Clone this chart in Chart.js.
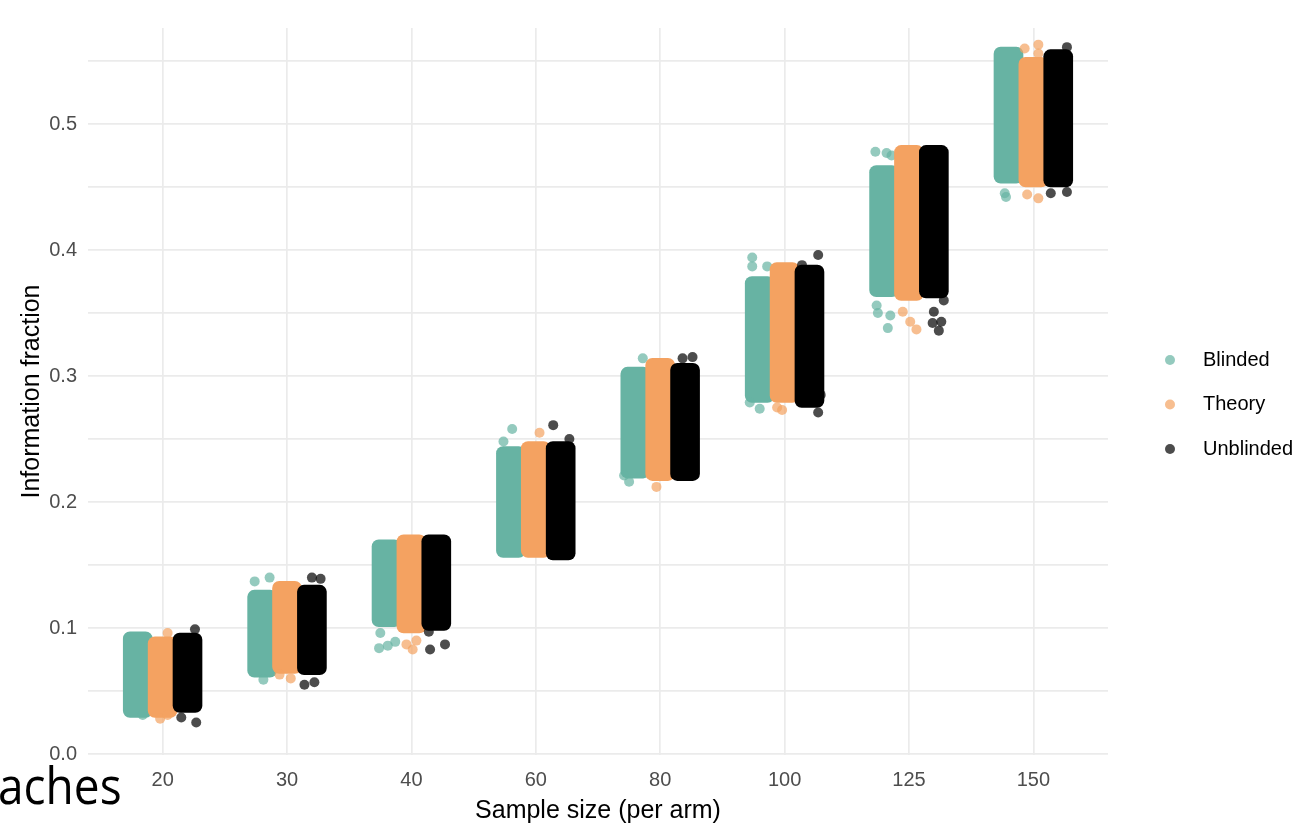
<!DOCTYPE html>
<html>
<head>
<meta charset="utf-8">
<script src="https://cdn.jsdelivr.net/npm/chart.js@4.4.1/dist/chart.umd.min.js"></script>
<style>
  html, body { margin: 0; padding: 0; background: #ffffff; }
  #wrap { position: relative; width: 1311px; height: 826px; overflow: hidden; }
  #c { position: absolute; left: 0; top: 0; }
  #caption {
    position: absolute; left: -2px; top: 763px;
    font-family: "Open Sans", sans-serif; font-size: 46px; line-height: 1;
    color: #000000; white-space: nowrap;
    transform: scale(1.0, 1.12); transform-origin: 0 41px;
  }
</style>
</head>
<body>
<div id="wrap">
  <canvas id="c" width="1311" height="826"></canvas>
  <div id="caption">aches</div>
</div>
<script>
// Sample sizes per arm (x categories)
const sampleSizes = ['20', '30', '40', '60', '80', '100', '125', '150'];
const seriesNames = ['Blinded', 'Theory', 'Unblinded'];
const yTickLabels = ['0.0', '0.1', '0.2', '0.3', '0.4', '0.5'];

// Dense body of each simulated cloud: [low, high] information fraction
const blindedRange = [
  [0.029, 0.097], [0.061, 0.130], [0.101, 0.170], [0.156, 0.244],
  [0.219, 0.307], [0.279, 0.379], [0.363, 0.467], [0.453, 0.561]
];
const theoryRange = [
  [0.029, 0.093], [0.064, 0.137], [0.096, 0.174], [0.156, 0.248],
  [0.217, 0.314], [0.279, 0.390], [0.360, 0.483], [0.450, 0.553]
];
const unblindedRange = [
  [0.033, 0.096], [0.063, 0.134], [0.098, 0.174], [0.154, 0.248],
  [0.217, 0.310], [0.275, 0.388], [0.362, 0.483], [0.450, 0.559]
];

// Stray simulations outside the dense body: [category index, value, jitter]
const blindedStray = [
  [0, 0.031, 0.04],
  [1, 0.137, -0.06], [1, 0.140, 0.06], [1, 0.059, 0.01],
  [2, 0.084, -0.06], [2, 0.086, 0.01], [2, 0.089, 0.07], [2, 0.096, -0.05],
  [3, 0.258, 0.01], [3, 0.248, -0.06],
  [4, 0.314, 0.06], [4, 0.221, -0.09], [4, 0.216, -0.05],
  [5, 0.394, -0.06], [5, 0.387, -0.06], [5, 0.387, 0.06], [5, 0.279, -0.08], [5, 0.274, 0.00],
  [6, 0.478, -0.07], [6, 0.477, 0.02], [6, 0.475, 0.06], [6, 0.356, -0.06],
  [6, 0.350, -0.05], [6, 0.348, 0.05], [6, 0.338, 0.03],
  [7, 0.445, -0.03], [7, 0.442, -0.02]
];
const theoryStray = [
  [0, 0.096, 0.04], [0, 0.028, -0.02], [0, 0.031, 0.04],
  [1, 0.063, -0.06], [1, 0.060, 0.03],
  [2, 0.087, -0.04], [2, 0.083, 0.01], [2, 0.090, 0.04],
  [3, 0.255, 0.03],
  [4, 0.212, -0.03],
  [5, 0.275, -0.06], [5, 0.273, -0.02],
  [6, 0.351, -0.05], [6, 0.343, 0.01], [6, 0.337, 0.06],
  [7, 0.563, 0.04], [7, 0.556, 0.04], [7, 0.560, -0.07], [7, 0.444, -0.05], [7, 0.441, 0.04]
];
const unblindedStray = [
  [0, 0.099, 0.06], [0, 0.029, -0.05], [0, 0.025, 0.07],
  [1, 0.140, 0.00], [1, 0.139, 0.07], [1, 0.055, -0.06], [1, 0.057, 0.02],
  [2, 0.097, -0.06], [2, 0.087, 0.07], [2, 0.083, -0.05],
  [3, 0.261, -0.06], [3, 0.250, 0.07],
  [4, 0.314, -0.02], [4, 0.315, 0.06],
  [5, 0.396, 0.07], [5, 0.388, -0.06], [5, 0.285, 0.09], [5, 0.271, 0.07],
  [6, 0.360, 0.08], [6, 0.351, 0.00], [6, 0.343, 0.06], [6, 0.342, -0.01], [6, 0.336, 0.04],
  [7, 0.561, 0.07], [7, 0.445, -0.06], [7, 0.446, 0.07]
];

const ranges = [blindedRange, theoryRange, unblindedRange];
const strays = [blindedStray, theoryStray, unblindedStray];

const solidColors = ['#67B3A3', '#F4A261', '#000000'];
const dotColors = ['rgba(103,179,163,0.7)', 'rgba(244,162,97,0.7)', 'rgba(0,0,0,0.7)'];
const DODGE = 0.2;          // horizontal offset between series within a category
const FONT = '"Liberation Sans", Arial, sans-serif';

const datasets = [];
seriesNames.forEach((name, s) => {
  const dx = (s - 1) * DODGE;
  datasets.push({
    type: 'bar',
    label: name,
    data: ranges[s].map((r, i) => ({ x: i + dx, y: r })),
    backgroundColor: solidColors[s],
    borderWidth: 0,
    borderSkipped: false,
    borderRadius: 7,
    barThickness: 29,
    grouped: false,
    order: 6 - 2 * s
  });
  datasets.push({
    type: 'scatter',
    label: name + ' (tails)',
    data: strays[s].map(([i, v, j]) => ({ x: i + dx + j, y: v })),
    backgroundColor: dotColors[s],
    borderWidth: 0,
    pointRadius: 5,
    pointHoverRadius: 5,
    order: 5 - 2 * s
  });
});

// Legend on the right, drawn from the series names and colours
const seriesKey = {
  id: 'seriesKey',
  afterDraw(chart) {
    const ctx = chart.ctx;
    const top = 360, gap = 44.5, dotX = 1170, textX = 1203;
    seriesNames.forEach((name, s) => {
      const y = top + s * gap;
      ctx.save();
      ctx.fillStyle = dotColors[s];
      ctx.beginPath();
      ctx.arc(dotX, y, 5, 0, Math.PI * 2);
      ctx.fill();
      ctx.fillStyle = '#000000';
      ctx.font = '20px ' + FONT;
      ctx.textBaseline = 'middle';
      ctx.textAlign = 'left';
      ctx.fillText(name, textX, y);
      ctx.restore();
    });
  }
};

new Chart(document.getElementById('c'), {
  type: 'bar',
  data: { datasets },
  plugins: [seriesKey],
  options: {
    responsive: false,
    animation: false,
    devicePixelRatio: 1,
    layout: { padding: { left: 0, top: 28, right: 203, bottom: 0 } },
    plugins: {
      legend: { display: false },
      tooltip: { enabled: false }
    },
    scales: {
      x: {
        type: 'linear',
        min: -0.6,
        max: sampleSizes.length - 0.4,
        offset: false,
        afterBuildTicks: (scale) => { scale.ticks = sampleSizes.map((_, i) => ({ value: i })); },
        afterFit: (scale) => { scale.height = 71; },
        ticks: {
          callback: (v) => sampleSizes[v],
          color: '#4D4D4D',
          font: { family: FONT, size: 20 },
          padding: 13,
          autoSkip: false,
          maxRotation: 0
        },
        grid: { color: '#EBEBEB', lineWidth: 1.7, drawTicks: false, offset: false },
        border: { display: false },
        title: {
          display: true,
          text: 'Sample size (per arm)',
          color: '#000000',
          font: { family: FONT, size: 25 },
          padding: { top: 0, bottom: 0 }
        }
      },
      y: {
        type: 'linear',
        min: -0.0008,
        max: 0.5762,
        afterBuildTicks: (scale) => {
          const t = [];
          for (let k = 0; k <= 11; k++) t.push({ value: k * 0.05 });
          scale.ticks = t;
        },
        afterFit: (scale) => { scale.width = 88; },
        ticks: {
          callback: (v) => {
            const k = Math.round(v * 20);
            return k % 2 === 0 ? yTickLabels[k / 2] : '';
          },
          color: '#4D4D4D',
          font: { family: FONT, size: 20 },
          padding: 11,
          autoSkip: false
        },
        grid: { color: '#EBEBEB', lineWidth: 1.7, drawTicks: false },
        border: { display: false },
        title: {
          display: true,
          text: 'Information fraction',
          color: '#000000',
          font: { family: FONT, size: 25 },
          padding: { top: 17, bottom: 0 }
        }
      }
    }
  }
});
</script>
</body>
</html>
